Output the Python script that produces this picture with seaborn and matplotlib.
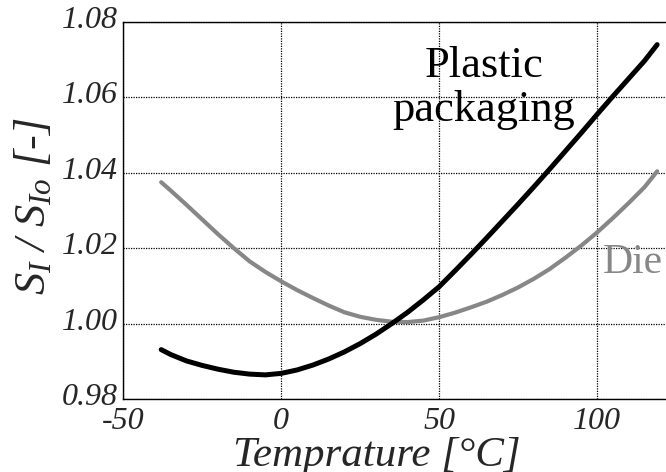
import matplotlib
matplotlib.use("Agg")
import matplotlib.pyplot as plt
import matplotlib.transforms as mtransforms
import seaborn as sns
import pandas as pd

# Relative sensitivity S_I/S_Io vs temperature for the packaged sensor and the bare die
temperature = [-38, -35, -30, -25, -20, -15, -10, -5, 0, 5, 10, 15, 20, 25, 30, 35, 40,
               45, 50, 55, 60, 65, 70, 75, 80, 85, 90, 95, 100, 105, 110, 115, 119]
plastic_packaging = [0.9931, 0.9918, 0.9901, 0.9889, 0.9879, 0.9871, 0.9866, 0.9864,
                     0.9868, 0.9877, 0.9890, 0.9906, 0.9925, 0.9947, 0.9972, 1.0000,
                     1.0030, 1.0063, 1.0098, 1.0140, 1.0183, 1.0227, 1.0272, 1.0317,
                     1.0363, 1.0410, 1.0458, 1.0506, 1.0555, 1.0603, 1.0650, 1.0697, 1.0740]
die = [1.0375, 1.0353, 1.0315, 1.0276, 1.0237, 1.0200, 1.0165, 1.0137,
       1.0112, 1.0089, 1.0068, 1.0048, 1.0030, 1.0018, 1.0010, 1.0005,
       1.0004, 1.0008, 1.0017, 1.0029, 1.0043, 1.0058, 1.0076, 1.0096,
       1.0119, 1.0145, 1.0175, 1.0207, 1.0242, 1.0280, 1.0320, 1.0362, 1.0404]

x_ticks = [-50, 0, 50, 100]
x_tick_labels = ["-50", "0", "50", "100"]
y_ticks = [0.98, 1.00, 1.02, 1.04, 1.06, 1.08]
y_tick_labels = ["0.98", "1.00", "1.02", "1.04", "1.06", "1.08"]

sns.set_style("white")
plt.rcParams["font.family"] = ["Liberation Serif", "DejaVu Serif"]
plt.rcParams["mathtext.fontset"] = "custom"
plt.rcParams["mathtext.it"] = "Liberation Serif:italic"
plt.rcParams["mathtext.rm"] = "Liberation Serif:italic"
plt.rcParams["axes.unicode_minus"] = False

df = pd.DataFrame({"T": temperature, "plastic": plastic_packaging, "die": die})

fig = plt.figure(figsize=(6.66, 4.72), dpi=100)
ax = fig.add_axes([123.3 / 666, 1 - 399 / 472, 1 - 123.3 / 666, (399 - 22) / 472])

sns.lineplot(data=df, x="T", y="die", ax=ax, color="#878787", linewidth=3.0,
             solid_capstyle="round", solid_joinstyle="round", zorder=3)
sns.lineplot(data=df, x="T", y="plastic", ax=ax, color="black", linewidth=3.6,
             solid_capstyle="round", solid_joinstyle="round", zorder=4)

ax.set_xlim(-50, 121.8)
ax.set_ylim(0.98, 1.08)
ax.set_xticks(x_ticks)
ax.set_xticklabels(x_tick_labels, fontstyle="italic", fontsize=23)
ax.set_yticks(y_ticks)
ax.set_yticklabels(y_tick_labels, fontstyle="italic", fontsize=23)
ax.tick_params(axis="both", length=0)
ax.tick_params(axis="x", pad=6)
ax.tick_params(axis="y", pad=4)

# y tick labels sit slightly above their grid lines
lift = mtransforms.ScaledTranslation(0, 5 / 100, fig.dpi_scale_trans)
for lbl in ax.get_yticklabels():
    lbl.set_transform(lbl.get_transform() + lift)

ax.grid(True, color="black", linestyle=(0, (1, 1)), linewidth=0.9)
ax.set_axisbelow(True)
for side in ["left", "top", "bottom"]:
    ax.spines[side].set_color("black")
    ax.spines[side].set_linewidth(1.0)
ax.spines["right"].set_visible(False)

ax.set_xlabel("Temprature [°C]", fontstyle="italic", fontsize=31, va="baseline")
ax.xaxis.set_label_coords(0.467, -0.177)
ax.set_ylabel(r"$S_I$ / $S_{Io}$ [-]", fontstyle="italic", fontsize=32, va="center")
ax.yaxis.set_label_coords(-0.166, 0.512)

ax.text(64.1, 1.0537, "Plastic\npackaging", fontsize=32, ha="center", va="baseline",
        color="black", linespacing=1.13)
ax.text(101.8, 1.0134, "Die", fontsize=30, ha="left", va="baseline", color="#878787")

fig.savefig("out.png", dpi=100)
